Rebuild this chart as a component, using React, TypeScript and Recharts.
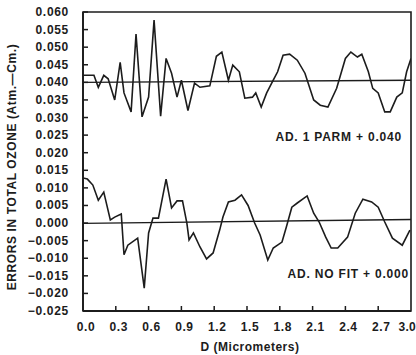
import React from 'react';
import { LineChart, Line, XAxis, YAxis, ReferenceLine, ReferenceArea } from 'recharts';

// upper trace: AD. 1 PARM, offset +0.040
const upperD = [0, 0.1, 0.14, 0.19, 0.23, 0.29, 0.34, 0.375, 0.44, 0.485, 0.54, 0.6, 0.65, 0.71, 0.76, 0.81, 0.86, 0.9, 0.96, 1.02, 1.07, 1.16, 1.22, 1.27, 1.33, 1.37, 1.43, 1.48, 1.55, 1.58, 1.63, 1.68, 1.74, 1.78, 1.83, 1.89, 1.96, 2.03, 2.11, 2.17, 2.24, 2.32, 2.4, 2.45, 2.51, 2.55, 2.61, 2.65, 2.7, 2.76, 2.81, 2.87, 2.92, 2.96, 3.0];
const upperErr = [0.042, 0.042, 0.0386, 0.042, 0.041, 0.035, 0.0457, 0.037, 0.0316, 0.0537, 0.0302, 0.0358, 0.0577, 0.0304, 0.0468, 0.0426, 0.0358, 0.0406, 0.032, 0.0398, 0.0386, 0.039, 0.0474, 0.0486, 0.0406, 0.0449, 0.043, 0.0355, 0.0358, 0.037, 0.033, 0.037, 0.0406, 0.043, 0.0477, 0.048, 0.0463, 0.0426, 0.035, 0.0335, 0.033, 0.0383, 0.0468, 0.0486, 0.0472, 0.048, 0.043, 0.0383, 0.037, 0.0316, 0.0316, 0.0358, 0.037, 0.043, 0.0468];

// lower trace: AD. NO FIT, offset +0.000
const lowerD = [0, 0.04, 0.09, 0.14, 0.19, 0.25, 0.29, 0.35, 0.375, 0.41, 0.5, 0.56, 0.6, 0.64, 0.69, 0.76, 0.81, 0.86, 0.91, 0.95, 0.97, 1.01, 1.07, 1.13, 1.19, 1.25, 1.28, 1.33, 1.39, 1.45, 1.51, 1.57, 1.62, 1.69, 1.74, 1.82, 1.86, 1.91, 1.96, 2.05, 2.11, 2.16, 2.22, 2.27, 2.33, 2.42, 2.49, 2.56, 2.64, 2.7, 2.76, 2.83, 2.92, 2.99];
const lowerErr = [0.0128, 0.0125, 0.0108, 0.0065, 0.0088, 0.0009, 0.0017, 0.0026, -0.009, -0.0063, -0.0043, -0.0185, -0.0028, 0.0014, 0.0014, 0.0125, 0.0043, 0.0063, 0.0063, 0, -0.0048, -0.0028, -0.0068, -0.0102, -0.0085, -0.002, 0.0017, 0.006, 0.0065, 0.008, 0.005, 0, -0.0034, -0.0105, -0.0071, -0.0054, -0.0011, 0.0045, 0.0057, 0.0077, 0.0028, 0.0003, -0.004, -0.0071, -0.0071, -0.004, 0.0028, 0.0068, 0.006, 0.0045, 0.0003, -0.0043, -0.0063, -0.002];

// baselines (scan is slightly tilted)
const upperBase = [0.04, 0.0406];
const lowerBase = [-0.0001, 0.001];

const xTicks = [0, 0.3, 0.6, 0.9, 1.2, 1.5, 1.8, 2.1, 2.4, 2.7, 3.0];
const yTicks = [-0.025, -0.02, -0.015, -0.01, -0.005, 0, 0.005, 0.01, 0.015, 0.02, 0.025, 0.03, 0.035, 0.04, 0.045, 0.05, 0.055, 0.06];

const INK = '#1c1c1c';
const FONT = '"Liberation Sans", Arial, sans-serif';

const upperData = upperD.map((d, i) => ({ d, v: upperErr[i] }));
const lowerData = lowerD.map((d, i) => ({ d, v: lowerErr[i] }));

const fmtY = (v: number) => {
  const s = Math.abs(v).toFixed(3);
  return v < -1e-9 ? '\u2212' + s : s;
};

const XTick = ({ x, y, payload }: any) => {
  const last = payload.value >= 3;
  return (
    <g>
      {payload.value > 0 && !last && (
        <line x1={x} y1={y} x2={x} y2={y - 5} stroke={INK} strokeWidth={1.5} />
      )}
      <text x={last ? 416 : x + 3} y={y + 20} textAnchor={last ? 'end' : 'middle'} fill={INK}
        fontFamily={FONT} fontWeight="bold" fontSize={12} letterSpacing={last ? 0.3 : 0.6}>
        {payload.value.toFixed(1)}
      </text>
    </g>
  );
};

const YTick = ({ x, y, payload }: any) => (
  <g>
    <line x1={x} y1={y} x2={x + 5} y2={y} stroke={INK} strokeWidth={1.5} />
    <text x={x - 14} y={y + 4} textAnchor="end" fill={INK} fontFamily={FONT}
      fontWeight="bold" fontSize={12} letterSpacing={0.7}>
      {fmtY(payload.value)}
    </text>
  </g>
);

const textStyle: React.CSSProperties = {
  position: 'absolute',
  fontFamily: FONT,
  fontWeight: 'bold',
  color: INK,
  whiteSpace: 'nowrap',
};

export default function App() {
  return (
    <div style={{ position: 'absolute', left: 0, top: 0, width: 416, height: 355, background: '#fff' }}>
      <LineChart width={416} height={355} margin={{ top: 12, right: 5, bottom: 14, left: 0 }}>
        <XAxis
          dataKey="d"
          type="number"
          domain={[0, 3]}
          ticks={xTicks}
          interval={0}
          tickSize={0}
          tickMargin={0}
          height={30}
          axisLine={{ stroke: INK, strokeWidth: 1.8 }}
          tickLine={false}
          tick={<XTick />}
          allowDataOverflow
        />
        <YAxis
          type="number"
          domain={[-0.025, 0.06]}
          ticks={yTicks}
          interval={0}
          tickSize={0}
          tickMargin={0}
          width={83}
          axisLine={{ stroke: INK, strokeWidth: 1.8 }}
          tickLine={false}
          tick={<YTick />}
          allowDataOverflow
        />
        <ReferenceArea x1={0} x2={3} y1={-0.025} y2={0.06} fill="none" stroke={INK} strokeWidth={1.6} />
        <ReferenceLine
          segment={[{ x: 0, y: upperBase[0] }, { x: 3, y: upperBase[1] }]}
          stroke={INK}
          strokeWidth={1.4}
        />
        <ReferenceLine
          segment={[{ x: 0, y: lowerBase[0] }, { x: 3, y: lowerBase[1] }]}
          stroke={INK}
          strokeWidth={1.4}
        />
        <Line data={upperData} dataKey="v" type="linear" stroke={INK} strokeWidth={1.6}
          dot={false} isAnimationActive={false} />
        <Line data={lowerData} dataKey="v" type="linear" stroke={INK} strokeWidth={1.6}
          dot={false} isAnimationActive={false} />
      </LineChart>

      <div style={{ ...textStyle, left: 12, top: 167, fontSize: 12, letterSpacing: 0.6,
        transform: 'translate(-50%, -50%) rotate(-90deg)' }}>
        ERRORS IN TOTAL OZONE (Atm.—Cm.)
      </div>
      <div style={{ ...textStyle, left: 250, top: 347, fontSize: 12, letterSpacing: 0.5,
        transform: 'translate(-50%, -50%)' }}>
        D (Micrometers)
      </div>
      <div style={{ ...textStyle, right: 14, top: 137, fontSize: 12, letterSpacing: 0.8,
        transform: 'translateY(-50%)' }}>
        AD. 1 PARM + 0.040
      </div>
      <div style={{ ...textStyle, right: 7, top: 274, fontSize: 12, letterSpacing: 0.8,
        transform: 'translateY(-50%)' }}>
        AD. NO FIT + 0.000
      </div>
    </div>
  );
}
